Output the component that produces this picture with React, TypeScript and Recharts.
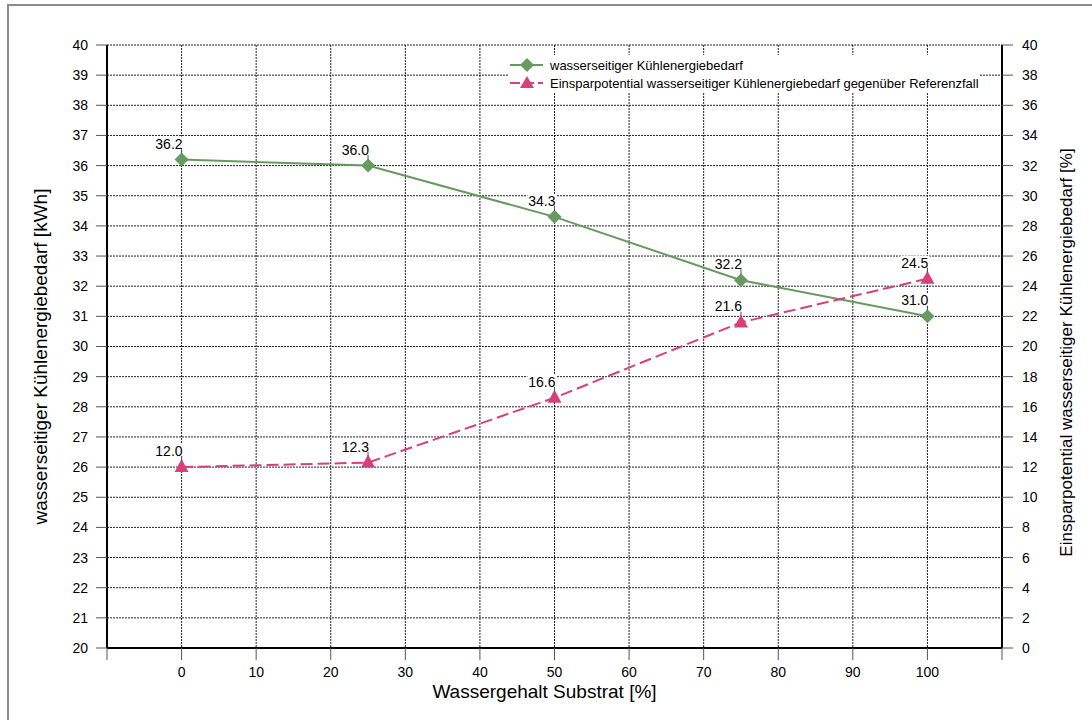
import React from 'react';
import {
  CartesianGrid,
  ComposedChart,
  Line,
  XAxis,
  YAxis,
} from 'recharts';

// Wassergehalt Substrat [%]
const wassergehalt = [0, 25, 50, 75, 100];
// wasserseitiger Kühlenergiebedarf [kWh]
const kuehlenergiebedarf = [36.2, 36.0, 34.3, 32.2, 31.0];
// Einsparpotential gegenüber Referenzfall [%]
const einsparpotential = [12.0, 12.3, 16.6, 21.6, 24.5];

const xTicks = [-10, 0, 10, 20, 30, 40, 50, 60, 70, 80, 90, 100, 110];
const leftTicks = [20, 21, 22, 23, 24, 25, 26, 27, 28, 29, 30, 31, 32, 33, 34, 35, 36, 37, 38, 39, 40];
const rightTicks = [0, 2, 4, 6, 8, 10, 12, 14, 16, 18, 20, 22, 24, 26, 28, 30, 32, 34, 36, 38, 40];

const GREEN = '#679a5f';
const PINK = '#d8407a';
const FONT = '"Liberation Sans", Arial, sans-serif';

const NAME_KWH = 'wasserseitiger Kühlenergiebedarf';
const NAME_PCT = 'Einsparpotential wasserseitiger Kühlenergiebedarf gegenüber Referenzfall';

const data = wassergehalt.map((x, i) => ({
  x,
  kwh: kuehlenergiebedarf[i],
  pct: einsparpotential[i],
}));

const Diamond = ({ cx, cy, fill }: { cx?: number; cy?: number; fill: string }) => {
  if (cx == null || cy == null) return null;
  const r = 7;
  return <path d={`M${cx},${cy - r}L${cx + r},${cy}L${cx},${cy + r}L${cx - r},${cy}Z`} fill={fill} />;
};

const Triangle = ({ cx, cy, fill }: { cx?: number; cy?: number; fill: string }) => {
  if (cx == null || cy == null) return null;
  return <path d={`M${cx},${cy - 8}L${cx + 7},${cy + 5}L${cx - 7},${cy + 5}Z`} fill={fill} />;
};

// value label sits up-left of the point, with a short leader line
const ValueLabel = (props: any) => {
  const { x, y, value } = props;
  if (x == null || y == null) return null;
  return (
    <g>
      <line x1={x} x2={x} y1={y - 11} y2={y - 6} stroke="#555" strokeWidth={1} />
      <rect x={x - 27} y={y - 23} width={29} height={12} fill="#fff" />
      <text x={x + 1} y={y - 11} textAnchor="end" fontSize={14} fontFamily={FONT} fill="#000">
        {Number(value).toFixed(1)}
      </text>
    </g>
  );
};

const LegendBox = () => (
  <div
    style={{
      position: 'absolute',
      left: 509,
      top: 55,
      background: '#fff',
      fontFamily: FONT,
      fontSize: 13,
      color: '#000',
      padding: '1px 0',
    }}
  >
    {[
      { name: NAME_KWH, color: GREEN, dashed: false },
      { name: NAME_PCT, color: PINK, dashed: true },
    ].map(item => (
      <div key={item.name} style={{ display: 'flex', alignItems: 'center', height: 18 }}>
        <svg width={41} height={16} style={{ flex: 'none' }}>
          <line
            x1={1}
            x2={34}
            y1={8}
            y2={8}
            stroke={item.color}
            strokeWidth={2}
            strokeDasharray={item.dashed ? '10 4' : undefined}
          />
          {item.dashed ? (
            <path d="M18,1L25,13L11,13Z" fill={item.color} />
          ) : (
            <path d="M18,1L25,8L18,15L11,8Z" fill={item.color} />
          )}
        </svg>
        <span style={{ whiteSpace: 'nowrap' }}>{item.name}</span>
      </div>
    ))}
  </div>
);

const tickStyle = { fontSize: 14, fontFamily: FONT, fill: '#000' };

export default function App() {
  return (
    <div
      style={{
        position: 'absolute',
        left: 0,
        top: 0,
        width: 1092,
        height: 720,
        overflow: 'hidden',
        background: '#fff',
      }}
    >
      <div
        style={{
          position: 'absolute',
          left: 7,
          top: 4,
          width: 1200,
          height: 800,
          borderLeft: '2px solid #8c8c8c',
          borderTop: '2px solid #8c8c8c',
        }}
      />
      <div style={{ position: 'absolute', left: 0, top: 0 }}>
        <ComposedChart
          width={1092}
          height={720}
          data={data}
          margin={{ top: 45, right: 30, bottom: 32, left: 47 }}
        >
          <CartesianGrid yAxisId="left" stroke="#222" strokeDasharray="2 1" strokeWidth={1} />
          <XAxis
            dataKey="x"
            type="number"
            domain={[-10, 110]}
            ticks={xTicks}
            tickFormatter={(v: number) => (v < 0 || v > 100 ? '' : String(v))}
            tick={tickStyle}
            tickSize={12}
            tickMargin={7}
            height={40}
            axisLine={{ stroke: '#000', strokeWidth: 2 }}
            tickLine={{ stroke: '#555' }}
            allowDataOverflow
            label={(p: any) => {
              const vb = p.viewBox;
              return (
                <text
                  x={vb.x + vb.width / 2 - 10}
                  y={vb.y + 50}
                  textAnchor="middle"
                  fontSize={19}
                  fontFamily={FONT}
                  fill="#000"
                >
                  Wassergehalt Substrat [%]
                </text>
              );
            }}
          />
          <YAxis
            yAxisId="left"
            orientation="left"
            domain={[20, 40]}
            ticks={leftTicks}
            interval={0}
            tick={tickStyle}
            tickSize={11}
            tickMargin={8}
            width={60}
            axisLine={{ stroke: '#000', strokeWidth: 2 }}
            tickLine={{ stroke: '#555' }}
            label={(p: any) => {
              const vb = p.viewBox;
              const cx = 40;
              const cy = vb.y + vb.height / 2 + 10;
              return (
                <text
                  x={cx}
                  y={cy}
                  transform={`rotate(-90 ${cx} ${cy})`}
                  textAnchor="middle"
                  dominantBaseline="central"
                  fontSize={19}
                  fontFamily={FONT}
                  fill="#000"
                >
                  wasserseitiger Kühlenergiebedarf [kWh]
                </text>
              );
            }}
          />
          <YAxis
            yAxisId="right"
            orientation="right"
            domain={[0, 40]}
            ticks={rightTicks}
            interval={0}
            tick={tickStyle}
            tickSize={11}
            tickMargin={9}
            width={60}
            axisLine={{ stroke: '#000', strokeWidth: 2 }}
            tickLine={{ stroke: '#555' }}
            label={(p: any) => {
              const vb = p.viewBox;
              const cx = 1066;
              const cy = vb.y + vb.height / 2 + 6;
              return (
                <text
                  x={cx}
                  y={cy}
                  transform={`rotate(-90 ${cx} ${cy})`}
                  textAnchor="middle"
                  dominantBaseline="central"
                  fontSize={17}
                  fontFamily={FONT}
                  fill="#000"
                >
                  Einsparpotential wasserseitiger Kühlenergiebedarf [%]
                </text>
              );
            }}
          />
          <Line
            yAxisId="left"
            dataKey="kwh"
            name={NAME_KWH}
            type="linear"
            stroke={GREEN}
            strokeWidth={2}
            dot={(p: any) => <Diamond key={`d${p.index}`} cx={p.cx} cy={p.cy} fill={GREEN} />}
            activeDot={false}
            label={<ValueLabel />}
            isAnimationActive={false}
          />
          <Line
            yAxisId="right"
            dataKey="pct"
            name={NAME_PCT}
            type="linear"
            stroke={PINK}
            strokeWidth={2}
            strokeDasharray="12 5"
            dot={(p: any) => <Triangle key={`t${p.index}`} cx={p.cx} cy={p.cy} fill={PINK} />}
            activeDot={false}
            label={<ValueLabel />}
            isAnimationActive={false}
          />
        </ComposedChart>
      </div>
      <LegendBox />
    </div>
  );
}
